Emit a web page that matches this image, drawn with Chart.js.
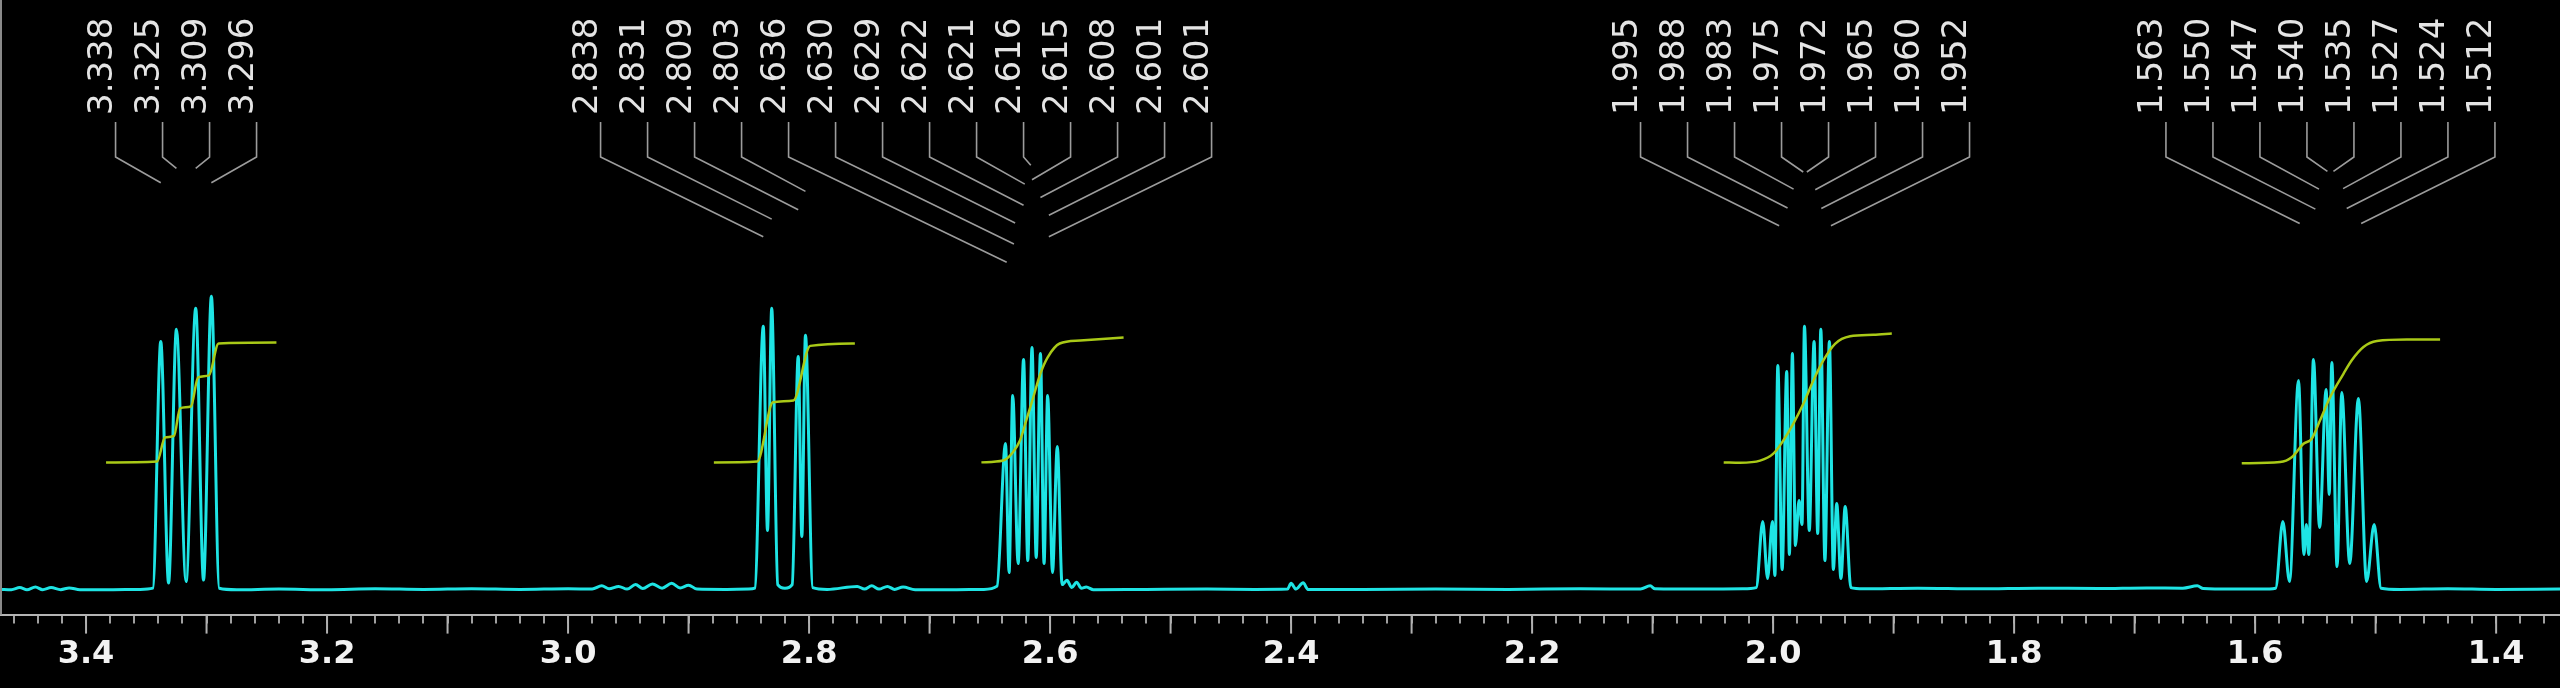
<!DOCTYPE html>
<html><head><meta charset="utf-8">
<script src="https://cdn.jsdelivr.net/npm/chart.js@4.4.1/dist/chart.umd.min.js"></script>
<style>html,body{margin:0;padding:0;background:#000;overflow:hidden}#wrap{width:2560px;height:688px}canvas{display:block}</style>
</head><body><div id="wrap"><canvas id="c" width="2560" height="688"></canvas></div>
<script>
// ---- data (ppm / relative intensity) ----
const axisMin = 1.347, axisMax = 3.4714;
const tickLabels = ['3.4','3.2','3.0','2.8','2.6','2.4','2.2','2.0','1.8','1.6','1.4'];

const spectrumPpm = [3.471,3.462,3.455,3.449,3.442,3.436,3.429,3.421,3.414,3.405,3.38,3.355,
 3.3445,3.338,3.3315,3.325,3.317,3.309,3.3025,3.296,3.2895,
 3.275,3.24,3.20,3.16,3.12,3.08,3.04,3.00,2.98,2.972,2.966,2.958,2.951,2.944,2.938,2.930,2.922,2.914,2.907,2.900,2.893,2.87,2.85,
 2.845,2.838,2.8345,2.831,2.826,2.820,2.814,2.809,2.806,2.803,2.797,
 2.785,2.760,2.754,2.748,2.742,2.735,2.729,2.722,2.712,2.68,2.655,
 2.644,2.637,2.634,2.631,2.6265,2.622,2.6185,2.615,2.6115,2.608,2.605,2.602,2.598,2.594,2.590,
 2.586,2.582,2.578,2.574,2.570,2.564,2.52,2.47,2.43,2.403,2.400,2.396,2.390,2.386,2.34,2.28,2.22,2.16,2.11,2.102,2.098,2.06,2.025,
 2.014,2.0086,2.0046,2.0006,1.9985,1.9961,1.9925,1.9887,1.9865,1.984,1.9815,1.9785,1.976,1.974,1.970,1.966,1.963,1.9604,1.957,1.9533,1.950,1.9472,1.9437,1.9402,1.9355,
 1.925,1.88,1.83,1.78,1.73,1.69,1.66,1.648,1.643,1.62,1.595,
 1.583,1.577,1.5715,1.564,1.5595,1.5575,1.5555,1.5516,1.5465,1.5411,1.5385,1.5364,1.532,1.5281,1.5215,1.5143,1.5075,1.5012,1.4955,
 1.48,1.44,1.40,1.347];
const spectrumIntensity = [0.4,0.3,1.0,0.3,1.2,0.3,1.0,0.3,0.9,0.3,0.3,0.4,
 0.8,83,2.5,87,3,94,3.5,98,0.8,
 0.3,0.5,0.3,0.6,0.4,0.6,0.4,0.6,0.5,1.6,0.6,1.4,0.5,2.0,0.7,2.2,0.8,2.4,0.9,1.8,0.5,0.4,0.5,
 0.8,88,20,94,2,0.8,2,78,18,85,1,
 0.4,1.4,0.5,1.6,0.5,1.4,0.4,1.2,0.3,0.3,0.4,
 1.5,49,6,65,9,77,10,81,11,79,9,65,6,48,2,
 3.4,1,2.8,0.8,1.2,0.3,0.4,0.5,0.4,0.5,2.4,0.5,2.6,0.4,0.4,0.5,0.4,0.6,0.5,1.6,0.6,0.5,0.6,
 1.0,23,4,23,5,75,7,73,12,79,15,30,22,88,20,83,19,87,10,83,7,29,4,28,1,
 0.6,0.8,0.6,0.8,0.7,0.9,0.8,1.6,0.7,0.5,0.5,
 0.8,23,3,70,12,22,12,77,21,67,32,76,8,66,9,64,3,22,0.8,
 0.4,0.6,0.4,0.5];

const integral1Ppm = [3.3834,3.341,3.3345,3.327,3.322,3.313,3.307,3.298,3.290,3.242];
const integral1Value = [42.7,43,51,51.5,60.7,61.3,71,71.7,82.3,82.6];
const integral2Ppm = [2.879,2.843,2.830,2.813,2.799,2.762];
const integral2Value = [42.7,43,62.7,63.3,81.5,82.3];
const integral3Ppm = [2.657,2.639,2.631,2.625,2.619,2.614,2.608,2.602,2.592,2.575,2.539];
const integral3Value = [42.7,43.3,46,50,57.7,64.3,72.3,77.7,82.3,83.3,84.3];
const integral4Ppm = [2.041,2.0274,2.0108,1.9998,1.9915,1.9832,1.9749,1.9666,1.9583,1.9486,1.9361,1.9168,1.9015];
const integral4Value = [42.7,42.6,43.3,45.6,50,55.6,62.2,70,76.7,82.2,84.7,85.2,85.6];
const integral5Ppm = [1.6111,1.5793,1.5696,1.5599,1.553,1.5461,1.5378,1.5267,1.5198,1.5101,1.499,1.4741,1.4465];
const integral5Value = [42.4,42.8,44.4,48.9,50.6,56.7,64.4,72.2,76.7,81.1,83.1,83.6,83.6];

const peakLabels1 = ['3.338','3.325','3.309','3.296'];
const peakLabels2 = ['2.838','2.831','2.809','2.803','2.636','2.630','2.629','2.622','2.621','2.616','2.615','2.608','2.601','2.601'];
const peakLabels3 = ['1.995','1.988','1.983','1.975','1.972','1.965','1.960','1.952'];
const peakLabels4 = ['1.563','1.550','1.547','1.540','1.535','1.527','1.524','1.512'];

// ---- build ----
const zip = (xs, ys) => xs.map((x, i) => ({x, y: ys[i]}));
const integralStyle = {borderColor:'#a9c917', borderWidth:2.5, pointRadius:0, cubicInterpolationMode:'monotone', fill:false, order:1};

const peakLabelPlugin = {
  id:'peakLabels',
  afterDatasetsDraw(chart){
    const ctx = chart.ctx, xs = chart.scales.x;
    const spacing = 47, topY = 122, elbowY = 157;
    ctx.save();
    [peakLabels1, peakLabels2, peakLabels3, peakLabels4].forEach(group => {
      const vals = group.map(parseFloat);
      const center = xs.getPixelForValue((vals[0] + vals[vals.length-1]) / 2);
      group.forEach((lab, i) => {
        const lx = center + (i - (group.length-1)/2) * spacing;
        const px = xs.getPixelForValue(vals[i]);
        const dy = 0.46 * Math.abs(px - lx) + 5;
        ctx.strokeStyle = '#9c9c9c'; ctx.lineWidth = 1.6;
        ctx.beginPath(); ctx.moveTo(lx, topY); ctx.lineTo(lx, elbowY); ctx.lineTo(px, elbowY + dy); ctx.stroke();
        ctx.save();
        ctx.translate(lx - 4, 115); ctx.rotate(-Math.PI/2);
        ctx.fillStyle = '#e4e4e4'; ctx.font = '34px "DejaVu Sans"';
        ctx.textAlign = 'left'; ctx.textBaseline = 'alphabetic';
        ctx.fillText(lab, 0, 0);
        ctx.restore();
      });
    });
    ctx.restore();
  },
  afterDraw(chart){
    const ctx = chart.ctx, xs = chart.scales.x, a = chart.chartArea;
    ctx.save();
    ctx.strokeStyle = '#b0b0b0'; ctx.lineWidth = 2;
    for (let k = 14; k <= 34; k++) {
      const x = xs.getPixelForValue(k/10);
      ctx.beginPath(); ctx.moveTo(x, a.bottom); ctx.lineTo(x, a.bottom + 19); ctx.stroke();
    }
    ctx.strokeStyle = '#8a8a8a'; ctx.lineWidth = 2;
    ctx.beginPath(); ctx.moveTo(a.left + 1, 0); ctx.lineTo(a.left + 1, a.bottom); ctx.stroke();
    ctx.restore();
  }
};

new Chart(document.getElementById('c'), {
  type:'line',
  data:{datasets:[
    {data: zip(spectrumPpm, spectrumIntensity), borderColor:'#1ee4e4', borderWidth:3, pointRadius:0, cubicInterpolationMode:'monotone', fill:false, order:2},
    Object.assign({data: zip(integral1Ppm, integral1Value)}, integralStyle),
    Object.assign({data: zip(integral2Ppm, integral2Value)}, integralStyle),
    Object.assign({data: zip(integral3Ppm, integral3Value)}, integralStyle),
    Object.assign({data: zip(integral4Ppm, integral4Value)}, integralStyle),
    Object.assign({data: zip(integral5Ppm, integral5Value)}, integralStyle)
  ]},
  options:{
    responsive:false, animation:false, devicePixelRatio:1,
    layout:{padding:{left:0,right:0,top:0,bottom:2}},
    plugins:{legend:{display:false}, tooltip:{enabled:false}},
    scales:{
      x:{type:'linear', reverse:true, min:axisMin, max:axisMax,
        border:{display:true, color:'#b4b4b4', width:2},
        grid:{display:true, drawOnChartArea:false, drawTicks:true, tickLength:9, color:'#a0a0a0', lineWidth:2},
        ticks:{stepSize:0.02, autoSkip:false, maxRotation:0, includeBounds:false, padding:12,
          color:'#f2f2f2', font:{family:'DejaVu Sans', size:32, weight:'bold'},
          callback:(v)=>{ const s = (Math.round(v*10)/10).toFixed(1); return (Math.round(v*100) % 20 === 0 && tickLabels.includes(s)) ? s : ''; }}
      },
      y:{display:false, min:-8, max:196.7}
    }
  },
  plugins:[peakLabelPlugin]
});
</script></body></html>
